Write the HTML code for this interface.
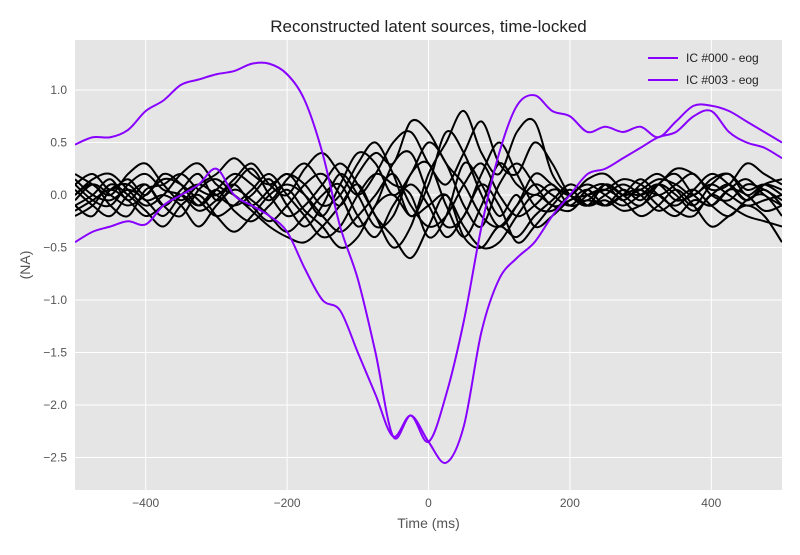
<!DOCTYPE html>
<html><head><meta charset="utf-8"><style>
body{margin:0;background:#fff;font-family:"Liberation Sans","DejaVu Sans",sans-serif}
text{font-family:"Liberation Sans","DejaVu Sans",sans-serif}
</style></head><body>
<svg id="chart" width="800" height="550" xmlns="http://www.w3.org/2000/svg"></svg>
<script>
const times=[];for(let t=-500;t<=500;t+=25)times.push(t);
const xTicks=[-400,-200,0,200,400];
const yTicks=[1.0,0.5,0.0,-0.5,-1.0,-1.5,-2.0,-2.5];
const ic000=[0.48,0.55,0.55,0.62,0.8,0.9,1.05,1.1,1.15,1.18,1.25,1.25,1.15,0.9,0.4,-0.3,-0.8,-1.5,-2.3,-2.1,-2.35,-1.9,-1.2,-0.3,0.4,0.85,0.95,0.8,0.75,0.6,0.65,0.6,0.65,0.55,0.7,0.85,0.85,0.8,0.7,0.6,0.5];
const ic003=[-0.45,-0.35,-0.3,-0.25,-0.28,-0.1,0,0.1,0.25,0,-0.1,-0.2,-0.35,-0.7,-1.0,-1.1,-1.5,-1.9,-2.3,-2.1,-2.35,-2.55,-2.2,-1.3,-0.8,-0.6,-0.45,-0.2,0,0.2,0.25,0.35,0.45,0.55,0.6,0.75,0.8,0.6,0.5,0.45,0.35];
const blacks=[
[0.1,0.2,0.05,0.15,0.0,0.2,0.1,-0.1,0.05,0.2,0.1,-0.05,0.15,0.3,0.1,-0.1,0.2,0.4,0.3,0.7,0.6,0.3,0.1,-0.2,-0.3,-0.1,0.1,0.0,-0.1,0.05,0.1,-0.05,0.1,0.2,0.05,-0.1,0.1,0.2,0.0,0.1,0.05],
[-0.1,0.0,0.15,-0.05,0.1,-0.1,0.05,0.2,-0.05,0.1,0.25,0.0,-0.2,-0.1,0.1,0.3,0.1,-0.2,-0.5,-0.3,0.2,0.5,0.8,0.4,0.2,0.6,0.7,0.2,0.0,-0.1,0.1,0.0,-0.1,0.1,0.2,0.0,-0.1,0.05,0.15,0.0,-0.1],
[0.05,-0.1,-0.2,0.0,0.1,-0.1,-0.2,0.05,0.15,0.0,-0.15,-0.3,-0.4,-0.45,-0.3,-0.1,0.1,-0.2,-0.4,-0.6,-0.3,0.0,-0.4,-0.5,-0.3,-0.4,-0.2,-0.05,0.1,0.0,-0.1,0.05,-0.05,0.1,0.0,-0.15,0.0,0.1,-0.05,0.05,-0.1],
[0.2,0.1,0.0,0.2,0.3,0.1,-0.05,0.1,0.2,0.35,0.2,0.1,0.2,0.1,-0.1,0.0,0.3,0.5,0.2,-0.2,0.1,0.6,0.4,0.0,-0.3,-0.1,0.2,0.1,0.0,0.15,0.2,0.05,0.0,0.1,0.25,0.2,0.05,0.1,0.3,0.2,0.1],
[-0.2,-0.1,0.1,0.0,-0.15,-0.3,-0.1,0.0,-0.2,-0.35,-0.2,0.0,0.1,0.0,-0.2,-0.35,-0.2,0.0,0.2,-0.1,-0.3,-0.2,0.1,0.3,0.0,-0.2,-0.1,0.05,0.0,-0.1,0.0,0.1,0.0,-0.15,-0.05,0.05,-0.1,-0.2,-0.05,0.0,-0.2],
[0.0,0.15,0.2,0.05,-0.1,0.0,0.2,0.3,0.1,0.0,-0.1,0.05,0.2,0.0,-0.2,0.1,0.4,0.3,0.0,0.2,0.5,0.3,-0.1,-0.3,0.1,0.3,0.1,-0.1,-0.05,0.05,-0.1,0.0,0.15,0.0,-0.1,0.05,0.2,0.1,-0.05,0.1,0.15],
[0.1,-0.05,-0.1,0.1,0.2,0.05,0.0,-0.15,-0.05,0.1,-0.1,-0.25,-0.1,0.1,0.2,0.0,-0.3,-0.1,0.3,0.4,0.0,-0.3,-0.2,0.2,0.5,0.2,-0.1,-0.15,0.0,0.1,0.0,-0.1,0.0,0.1,-0.05,0.0,0.1,0.0,-0.1,-0.05,0.0],
[-0.05,0.1,0.0,-0.1,0.0,0.15,0.1,-0.05,-0.2,-0.1,0.05,0.2,0.0,-0.2,-0.4,-0.3,0.0,0.2,0.1,0.0,-0.4,-0.2,0.3,0.1,-0.2,0.0,-0.3,-0.2,-0.05,0.0,0.05,0.15,0.1,0.0,0.1,0.2,0.0,-0.05,0.1,0.05,-0.05],
[0.15,0.0,-0.05,0.05,-0.05,-0.2,0.0,0.1,0.0,-0.1,0.0,0.15,-0.1,-0.3,-0.1,0.2,0.0,-0.3,-0.2,0.2,0.3,-0.1,-0.4,-0.1,0.3,0.1,0.0,0.1,-0.1,-0.05,-0.1,0.0,0.05,-0.1,-0.2,-0.05,-0.1,0.05,0.0,-0.15,-0.1],
[-0.1,-0.2,0.05,0.1,-0.05,0.0,-0.1,-0.3,-0.1,0.05,-0.05,-0.2,-0.35,-0.2,0.0,0.1,-0.2,-0.4,-0.1,0.1,-0.1,-0.4,-0.2,0.1,-0.1,-0.45,-0.3,-0.1,0.05,-0.1,-0.05,-0.15,-0.1,0.0,-0.15,-0.2,0.0,-0.1,-0.2,-0.25,-0.3],
[0.0,0.1,-0.1,-0.2,0.05,0.1,0.2,0.05,0.0,0.15,0.3,0.1,0.0,0.25,0.4,0.2,0.0,0.2,0.5,0.6,0.3,0.1,0.4,0.7,0.3,0.2,0.5,0.3,0.0,-0.05,0.1,0.0,0.05,0.15,0.1,0.0,0.15,0.2,0.05,0.1,0.0],
[-0.15,-0.05,0.05,-0.05,-0.2,-0.1,0.0,-0.1,0.05,-0.15,-0.25,-0.1,0.05,-0.15,-0.3,-0.5,-0.4,-0.1,0.0,-0.2,-0.1,0.0,-0.3,-0.5,-0.45,-0.2,0.0,-0.1,-0.15,0.0,0.05,-0.05,-0.2,-0.1,0.05,-0.1,-0.3,-0.2,-0.1,-0.2,-0.45]
];
const L=75,R=782,T=40,B=490;
const x=t=>L+(t+500)/1000*(R-L);
const y=v=>195-v*105;
const NS="http://www.w3.org/2000/svg";
const svg=document.getElementById('chart');
function mk(tag,attrs,parent){const e=document.createElementNS(NS,tag);for(const k in attrs)e.setAttribute(k,attrs[k]);(parent||svg).appendChild(e);return e;}
const bg=mk('rect',{x:L,y:T,width:R-L,height:B-T,fill:'#e5e5e5'});


const clip=mk('clipPath',{id:'c'});mk('rect',{x:L,y:T,width:R-L,height:B-T},clip);
xTicks.forEach(t=>{const l=mk('line',{x1:x(t),x2:x(t),y1:T,y2:B,stroke:'#fff','stroke-width':1});

const tx=mk('text',{x:x(t),y:B+17,'text-anchor':'middle','font-size':12,fill:'#555'});tx.textContent=t<0?'\u2212'+(-t):t;
});
yTicks.forEach(v=>{const l=mk('line',{x1:L,x2:R,y1:y(v),y2:y(v),stroke:'#fff','stroke-width':1});

const tx=mk('text',{x:L-8,y:y(v)+4,'text-anchor':'end','font-size':12,fill:'#555'});tx.textContent=(v<0?'\u2212':'')+Math.abs(v).toFixed(1);
});
function path(vals){const p=vals.map((v,i)=>[x(times[i]),y(v)]);let d='M'+p[0][0]+','+p[0][1];
for(let i=0;i<p.length-1;i++){const p0=p[Math.max(0,i-1)],p1=p[i],p2=p[i+1],p3=p[Math.min(p.length-1,i+2)];
d+=' C'+(p1[0]+(p2[0]-p0[0])/6)+','+(p1[1]+(p2[1]-p0[1])/6)+' '+(p2[0]-(p3[0]-p1[0])/6)+','+(p2[1]-(p3[1]-p1[1])/6)+' '+p2[0]+','+p2[1];}return d;}
const g=mk('g',{'clip-path':'url(#c)'});
blacks.forEach((s,i)=>{const e=mk('path',{d:path(s),fill:'none',stroke:'#000','stroke-width':2},g);
});
[ic000,ic003].forEach((s,i)=>{const e=mk('path',{d:path(s),fill:'none',stroke:'#8800ff','stroke-width':2},g);
});
const ti=mk('text',{x:(L+R)/2,y:32,'text-anchor':'middle','font-size':17,fill:'#222'});ti.textContent='Reconstructed latent sources, time-locked';

const xl=mk('text',{x:(L+R)/2,y:528,'text-anchor':'middle','font-size':14,fill:'#555'});xl.textContent='Time (ms)';

const yl=mk('text',{x:30,y:265,'text-anchor':'middle','font-size':14,fill:'#555',transform:'rotate(-90 30 265)'});yl.textContent='(NA)';

const lg=mk('g',{});
['IC #000 - eog','IC #003 - eog'].forEach((n,i)=>{const yy=58+i*22;
const ln=mk('line',{x1:648,x2:678,y1:yy,y2:yy,stroke:'#8800ff','stroke-width':2},lg);

const t=mk('text',{x:686,y:yy+4,'font-size':12,fill:'#222'},lg);t.textContent=n;
});
</script>
</body></html>
